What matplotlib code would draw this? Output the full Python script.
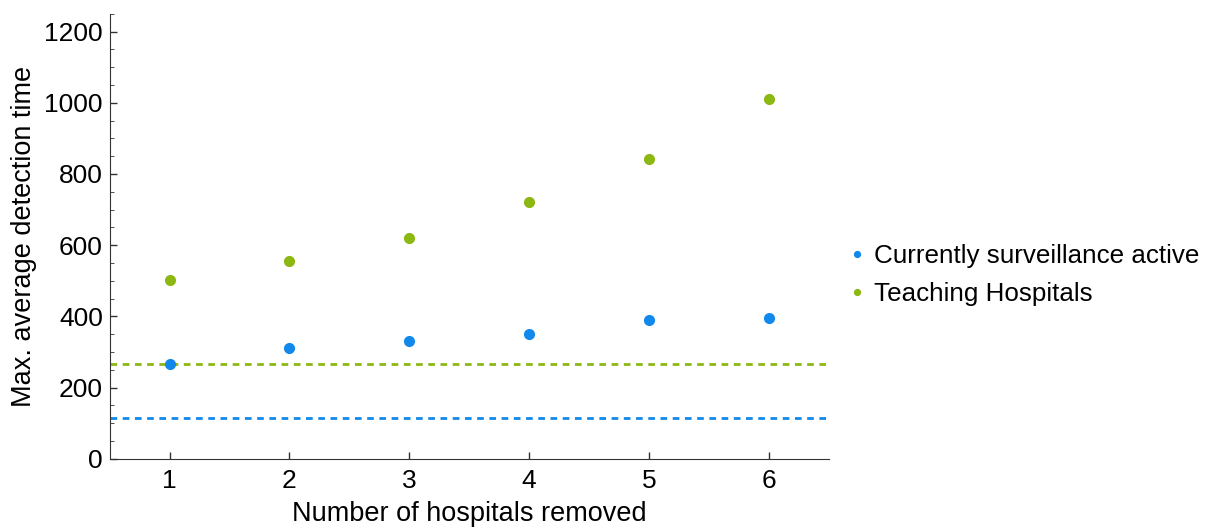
import matplotlib.pyplot as plt
from matplotlib.ticker import MultipleLocator

plt.rcParams['font.family'] = ['Liberation Sans', 'DejaVu Sans']

# data
removed = [1, 2, 3, 4, 5, 6]
surveillance = [265, 312, 332, 351, 389, 396]
teaching = [501, 555, 620, 720, 842, 1011]
surveillance_base = 115
teaching_base = 265

blue = '#1289ea'
green = '#8cb814'

fig = plt.figure(figsize=(12.06, 5.31), dpi=100)
ax = fig.add_axes([0.091, 0.136, 0.596, 0.838])

ax.axhline(teaching_base, color=green, linestyle=(0, (2.4, 2)), linewidth=2)
ax.axhline(surveillance_base, color=blue, linestyle=(0, (2.4, 2)), linewidth=2)
ax.plot(removed, surveillance, 'o', color=blue, markersize=7, label='Currently surveillance active')
ax.plot(removed, teaching, 'o', color=green, markersize=7, label='Teaching Hospitals')

ax.set_xlim(0.5, 6.5)
ax.set_ylim(0, 1250)
ax.set_xticks(removed)
ax.yaxis.set_major_locator(MultipleLocator(200))
ax.yaxis.set_minor_locator(MultipleLocator(50))
ax.tick_params(direction='in', labelsize=19, length=5, width=1, color='#333333')
ax.tick_params(which='minor', direction='in', length=3, color='#333333')
ax.tick_params(axis='x', pad=7)
ax.tick_params(axis='y', pad=5)
for s in ['top', 'right']:
    ax.spines[s].set_visible(False)
for s in ['left', 'bottom']:
    ax.spines[s].set_color('#333333')

ax.set_xlabel('Number of hospitals removed', fontsize=19.5, labelpad=6)
ax.set_ylabel('Max. average detection time', fontsize=19.5, labelpad=5)

fig.legend(loc='center left', bbox_to_anchor=(0.686, 0.482), frameon=False,
           fontsize=18.7, markerscale=0.6, handlelength=0.5, handletextpad=0.4,
           labelspacing=0.55)

plt.savefig('out.png', dpi=100)
